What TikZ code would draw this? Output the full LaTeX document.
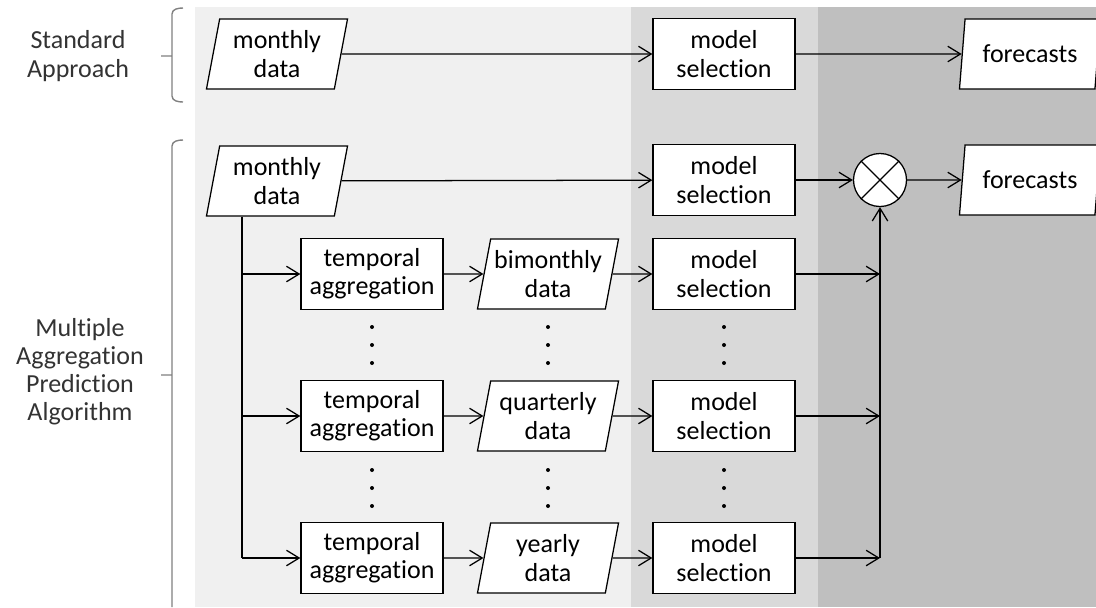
\documentclass[tikz,border=0pt]{standalone}
\usepackage{fontspec}
\setmainfont[Ligatures=NoCommon]{Carlito}
\usetikzlibrary{shapes.geometric}
\usetikzlibrary{arrows.meta}
\usetikzlibrary{positioning}

\begin{document}
\begin{tikzpicture}[x=0.025cm,y=-0.025cm,
  font=\fontsize{18.5}{20}\selectfont,
  box/.style={rectangle,draw,fill=white,line width=0.9pt,minimum width=3.55cm,minimum height=1.775cm,align=center,inner sep=1pt},
  para/.style={trapezium,trapezium left angle=75,trapezium right angle=105,trapezium stretches body,draw,fill=white,line width=0.9pt,minimum width=3.525cm,minimum height=1.75cm,align=center,inner sep=1pt},
  flow/.style={line width=0.9pt,-{Straight Barb[length=9pt,width=11pt]}},
  brace/.style={draw=black!50,line width=1pt}]
\useasboundingbox (0,0) rectangle (1096,607);
% shaded stages
\fill[black!6] (195,7) rectangle (631,607);
\fill[black!15] (631,7) rectangle (818,607);
\fill[black!25] (818,7) rectangle (1096,607);

% braces and labels
\draw[brace] (183,8) to[out=180,in=90] (172,14) -- (172,56) -- (161,56) (172,56) -- (172,96) to[out=-90,in=180] (183,102);
\draw[brace] (183,140) to[out=180,in=90] (172,146) -- (172,375) -- (161,375) (172,375) -- (172,607);
\node[align=center,text=black!80] (std) at (78,56) {Standard\\Approach};
\node[align=center,text=black!80] (mapa) at (80,372) {Multiple\\Aggregation\\Prediction\\Algorithm};

% standard approach
\node[para] (md1) at (277,54) {monthly\\data};
\node[box] (ms1) at (724,54) {model\\selection};
\node[para] (fc1) at (1030,54) {forecasts};
\draw[flow] (md1) -- (ms1);
\draw[flow] (ms1) -- (fc1);

% multiple aggregation
\node[para] (md2) at (277,181) {monthly\\data};
\node[box] (ms2) at (724,180) {model\\selection};
\node[circle,draw,fill=white,line width=0.9pt,minimum size=1.325cm] (comb) at (880,180) {};
\draw[line width=0.9pt] (comb.north west) -- (comb.south east) (comb.north east) -- (comb.south west);
\node[para] (fc2) at (1030,180) {forecasts};
\draw[flow] (md2) -- (ms2);
\draw[flow] (ms2) -- (comb);
\draw[flow] (comb) -- (fc2);

\coordinate (trunk) at (242,0);
\foreach \y/\n/\d in {274/a/bimonthly,416/b/quarterly,558/c/yearly}{
  \node[box] (ta\n) at (372,\y) {temporal\\aggregation};
  \node[para] (dt\n) at (548,\y) {\d\\data};
  \node[box] (ms\n) at (724,\y) {model\\selection};
  \draw[flow] (ta\n.west -| trunk) -- (ta\n.west);
  \draw[flow] (ta\n) -- (dt\n);
  \draw[flow] (dt\n) -- (ms\n);
  \draw[flow] (ms\n) -- (ms\n -| comb);
}
\draw[line width=0.9pt] (md2.south -| trunk) -- (tac.west -| trunk);
\draw[flow] (msc -| comb) -- (comb.south);

% ellipses between rows
\foreach \x in {372,548,724}
  \foreach \y in {327,345,363,470,488,506}
    \fill (\x,\y) circle (2);

\end{tikzpicture}
\end{document}
